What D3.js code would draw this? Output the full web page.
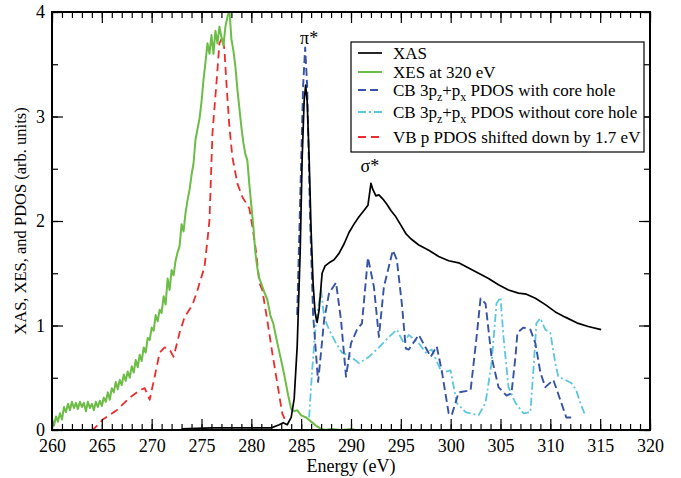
<!DOCTYPE html>
<html>
<head>
<meta charset="utf-8">
<script src="https://cdn.jsdelivr.net/npm/d3@7"></script>
<style>
  body { margin: 0; background: #fff; }
  text { font-family: "Liberation Serif", "Times New Roman", serif; }
</style>
</head>
<body>
<svg id="chart" width="681" height="478"></svg>
<script>
// energies (eV) and intensities
const xasE = [273, 276, 279, 282, 282.8, 283.2, 283.6, 284.0, 284.3, 284.6, 284.9, 285.1, 285.3, 285.45, 285.6, 285.8, 286.0, 286.2, 286.4, 286.6, 286.8, 287.1, 287.4, 287.8, 288.3, 288.8, 289.3, 289.8, 290.3, 290.8, 291.3, 291.7, 292.0, 292.2, 292.5, 292.8, 293.2, 293.6, 294.0, 294.5, 295.0, 295.5, 296.0, 296.8, 297.8, 298.8, 299.8, 300.8, 301.8, 302.8, 303.8, 304.8, 305.8, 306.8, 307.6, 308.5, 309.5, 310.5, 311.5, 312.8, 313.8, 315.1];
const xasV = [0.01, 0.02, 0.02, 0.02, 0.05, 0.07, 0.05, 0.12, 0.3, 0.8, 1.7, 2.6, 3.15, 3.30, 3.15, 2.6, 1.9, 1.4, 1.12, 1.03, 1.15, 1.50, 1.57, 1.60, 1.63, 1.69, 1.78, 1.89, 1.97, 2.04, 2.10, 2.15, 2.36, 2.30, 2.24, 2.25, 2.21, 2.16, 2.10, 2.04, 1.96, 1.88, 1.83, 1.77, 1.72, 1.66, 1.62, 1.60, 1.55, 1.50, 1.45, 1.39, 1.34, 1.31, 1.30, 1.26, 1.20, 1.13, 1.08, 1.02, 0.99, 0.96];

const xesE = [260.0, 260.2, 260.4, 260.6, 260.8, 261.0, 261.2, 261.4, 261.6, 261.8, 262.0, 262.2, 262.4, 262.6, 262.8, 263.0, 263.2, 263.4, 263.6, 263.8, 264.0, 264.2, 264.4, 264.6, 264.8, 265.0, 265.2, 265.4, 265.6, 265.8, 266.0, 266.2, 266.4, 266.6, 266.8, 267.0, 267.2, 267.4, 267.6, 267.8, 268.0, 268.2, 268.4, 268.6, 268.8, 269.0, 269.2, 269.4, 269.6, 269.8, 270.0, 270.2, 270.4, 270.6, 270.8, 271.0, 271.2, 271.4, 271.6, 271.8, 272.0, 272.2, 272.4, 272.6, 272.8, 273.0, 273.2, 273.4, 273.6, 273.8, 274.0, 274.2, 274.4, 274.6, 274.8, 275.0, 275.2, 275.4, 275.6, 275.8, 276.0, 276.2, 276.4, 276.6, 276.8, 277.0, 277.2, 277.4, 277.6, 277.8, 278.0, 278.2, 278.4, 278.6, 278.8, 279.0, 279.2, 279.4, 279.6, 279.8, 280.0, 280.2, 280.4, 280.6, 280.8, 281.0, 281.3, 281.6, 281.9, 282.2, 282.5, 282.8, 283.1, 283.4, 283.7, 284.0, 284.3, 284.6, 285.0, 285.5, 286.0, 286.5, 287.0, 287.5, 288.0, 289.0, 290.0, 290.5];
const xesV = [0.10, 0.04, 0.13, 0.08, 0.16, 0.10, 0.22, 0.17, 0.25, 0.19, 0.27, 0.21, 0.26, 0.20, 0.27, 0.22, 0.26, 0.18, 0.27, 0.21, 0.25, 0.19, 0.27, 0.22, 0.28, 0.23, 0.31, 0.27, 0.36, 0.29, 0.40, 0.36, 0.46, 0.39, 0.48, 0.43, 0.53, 0.47, 0.56, 0.50, 0.61, 0.55, 0.67, 0.60, 0.72, 0.66, 0.79, 0.74, 0.88, 0.86, 0.98, 0.95, 1.10, 1.04, 1.15, 1.12, 1.28, 1.20, 1.45, 1.34, 1.53, 1.48, 1.62, 1.70, 1.76, 1.97, 1.90, 2.08, 2.20, 2.30, 2.44, 2.55, 2.78, 2.88, 2.98, 3.14, 3.35, 3.52, 3.70, 3.60, 3.78, 3.60, 3.82, 3.70, 3.86, 3.76, 3.68, 3.86, 3.95, 4.02, 3.74, 3.63, 3.48, 3.26, 3.08, 2.90, 2.75, 2.64, 2.58, 2.35, 2.15, 1.95, 1.70, 1.55, 1.45, 1.40, 1.32, 1.25, 1.10, 1.02, 0.88, 0.75, 0.62, 0.48, 0.33, 0.20, 0.18, 0.19, 0.14, 0.12, 0.08, 0.04, 0.01, 0.0, 0.01, 0.0, 0.01, 0.0];

const cbE = [284.6, 284.9, 285.2, 285.4, 285.6, 285.9, 286.2, 286.7, 287.0, 287.3, 287.8, 288.5, 289.0, 289.5, 290.0, 290.6, 291.1, 291.7, 292.3, 292.8, 293.3, 294.2, 294.6, 295.1, 295.5, 295.8, 296.8, 298.0, 298.6, 299.1, 299.8, 300.1, 300.8, 302.0, 302.6, 303.0, 303.5, 304.1, 304.8, 305.6, 306.1, 306.5, 306.7, 307.3, 308.0, 308.5, 309.0, 309.5, 310.3, 311.1, 311.6, 312.1];
const cbV = [1.10, 2.2, 3.3, 3.66, 3.3, 2.0, 1.1, 0.46, 0.75, 1.05, 1.31, 1.41, 1.05, 0.51, 0.83, 0.96, 1.02, 1.65, 1.37, 0.89, 1.37, 1.72, 1.63, 1.21, 0.78, 0.77, 0.91, 0.70, 0.80, 0.57, 0.16, 0.14, 0.36, 0.38, 0.89, 1.26, 1.21, 0.70, 0.41, 0.33, 0.35, 0.70, 0.93, 0.98, 0.96, 0.83, 0.55, 0.41, 0.48, 0.26, 0.12, 0.12];

const cbnE = [285.8, 286.1, 286.5, 287.0, 287.3, 287.8, 288.5, 289.1, 290.0, 290.8, 291.8, 292.8, 293.8, 294.6, 295.3, 295.8, 296.8, 297.5, 298.1, 299.1, 300.0, 300.6, 301.5, 302.8, 303.5, 304.1, 304.6, 305.0, 305.3, 305.8, 306.5, 307.3, 308.0, 308.3, 308.6, 309.0, 309.5, 310.0, 310.5, 310.8, 311.5, 312.1, 312.6, 313.0, 313.5];
const cbnV = [0.12, 0.57, 1.05, 1.34, 1.08, 0.96, 0.83, 0.74, 0.70, 0.64, 0.70, 0.79, 0.89, 0.96, 0.83, 0.91, 0.83, 0.74, 0.77, 0.55, 0.57, 0.26, 0.17, 0.14, 0.26, 0.64, 1.21, 1.27, 0.89, 0.41, 0.26, 0.16, 0.17, 0.57, 1.02, 1.07, 0.96, 0.93, 0.64, 0.51, 0.48, 0.45, 0.38, 0.26, 0.14];

const vbE = [260, 264.0, 264.3, 265.1, 266.5, 267.8, 268.8, 269.3, 269.8, 270.3, 270.8, 271.3, 271.8, 272.2, 272.8, 273.3, 274.1, 274.6, 275.3, 275.6, 275.8, 276.1, 276.5, 276.8, 277.1, 277.3, 277.5, 277.8, 278.1, 278.6, 279.1, 279.8, 280.1, 280.5, 280.8, 281.1, 281.6, 282.1, 282.6, 283.1, 283.5];
const vbV = [0, 0, 0.02, 0.1, 0.19, 0.31, 0.38, 0.40, 0.29, 0.51, 0.74, 0.79, 0.77, 0.70, 0.93, 1.08, 1.20, 1.34, 1.56, 1.82, 2.01, 2.84, 3.32, 3.70, 3.76, 3.64, 3.32, 2.90, 2.61, 2.36, 2.23, 2.12, 1.95, 1.69, 1.41, 1.34, 1.05, 0.74, 0.45, 0.16, 0.07];

const xMajor = d3.range(260, 321, 5);
const xMinor = d3.range(260, 321, 1);
const yMajor = [0, 1, 2, 3, 4];
const yMinor = d3.range(0, 4.01, 0.5);

const svg = d3.select("#chart");
const pLeft = 52, pRight = 650, pTop = 12, pBottom = 430;

const x = d3.scaleLinear().domain([260, 320]).range([pLeft, pRight]);
const y = d3.scaleLinear().domain([0, 4]).range([pBottom, pTop]);

svg.append("defs").append("clipPath").attr("id", "clip")
    .append("rect").attr("x", pLeft).attr("y", pTop)
    .attr("width", pRight - pLeft).attr("height", pBottom - pTop);

const series = [
    { label: "VB", e: vbE, v: vbV, color: "#ee2b2b", width: 1.8, dash: "8,5" },
    { label: "XES", e: xesE, v: xesV, color: "#6cbd45", width: 2, dash: null },
    { label: "CBn", e: cbnE, v: cbnV, color: "#5cc6de", width: 1.8, dash: "8,3,2,3" },
    { label: "CB", e: cbE, v: cbV, color: "#3753a6", width: 1.9, dash: "8,4" },
    { label: "XAS", e: xasE, v: xasV, color: "#000", width: 1.7, dash: null }
];

const line = d3.line().x(d => x(d[0])).y(d => y(d[1]));
const plot = svg.append("g").attr("clip-path", "url(#clip)");
series.forEach(s => {
    plot.append("path")
        .datum(s.e.map((e, i) => [e, s.v[i]]))
        .attr("fill", "none")
        .attr("stroke", s.color)
        .attr("stroke-width", s.width)
        .attr("stroke-dasharray", s.dash)
        .attr("stroke-linejoin", "round")
        .attr("d", line);
});

// axes, ticks pointing inward
function styleAxis(g) {
    g.select(".domain").remove();
    g.selectAll("line").attr("stroke", "#000").attr("stroke-width", 1.2);
}
svg.append("g").attr("transform", `translate(0,${pBottom})`)
    .call(d3.axisBottom(x).tickValues(xMinor).tickSize(-6).tickFormat(""))
    .call(styleAxis);
svg.append("g").attr("transform", `translate(0,${pBottom})`)
    .call(d3.axisBottom(x).tickValues(xMajor).tickSize(-11).tickPadding(9).tickFormat(d3.format("d")))
    .call(styleAxis)
    .selectAll("text").attr("font-size", 18).attr("fill", "#000");
svg.append("g").attr("transform", `translate(0,${pTop})`)
    .call(d3.axisTop(x).tickValues(xMinor).tickSize(-6).tickFormat(""))
    .call(styleAxis);
svg.append("g").attr("transform", `translate(0,${pTop})`)
    .call(d3.axisTop(x).tickValues(xMajor).tickSize(-11).tickFormat(""))
    .call(styleAxis);
svg.append("g").attr("transform", `translate(${pLeft},0)`)
    .call(d3.axisLeft(y).tickValues(yMinor).tickSize(-6).tickFormat(""))
    .call(styleAxis);
svg.append("g").attr("transform", `translate(${pLeft},0)`)
    .call(d3.axisLeft(y).tickValues(yMajor).tickSize(-11).tickPadding(7).tickFormat(d3.format("d")))
    .call(styleAxis)
    .selectAll("text").attr("font-size", 18).attr("fill", "#000");
svg.append("g").attr("transform", `translate(${pRight},0)`)
    .call(d3.axisRight(y).tickValues(yMinor).tickSize(-6).tickFormat(""))
    .call(styleAxis);
svg.append("g").attr("transform", `translate(${pRight},0)`)
    .call(d3.axisRight(y).tickValues(yMajor).tickSize(-11).tickFormat(""))
    .call(styleAxis);

svg.append("rect")
    .attr("x", pLeft).attr("y", pTop)
    .attr("width", pRight - pLeft).attr("height", pBottom - pTop)
    .attr("fill", "none").attr("stroke", "#000").attr("stroke-width", 2);

svg.append("text")
    .attr("x", (pLeft + pRight) / 2).attr("y", 472)
    .attr("text-anchor", "middle").attr("font-size", 18)
    .text("Energy (eV)");

svg.append("text")
    .attr("transform", `translate(26,${(pTop + pBottom) / 2}) rotate(-90)`)
    .attr("text-anchor", "middle").attr("font-size", 16.5)
    .text("XAS, XES, and PDOS (arb. units)");

// peak labels
svg.append("text").attr("x", x(285.8)).attr("y", 44)
    .attr("text-anchor", "middle").attr("font-size", 18).text("π*");
svg.append("text").attr("x", x(291.9)).attr("y", 172)
    .attr("text-anchor", "middle").attr("font-size", 18).text("σ*");

// legend
const legend = svg.append("g");
legend.append("rect")
    .attr("x", 351).attr("y", 42).attr("width", 293).attr("height", 110)
    .attr("fill", "#fff").attr("stroke", "#000").attr("stroke-width", 1.2);

const legendRows = [
    { s: "XAS", y: 53, parts: [["XAS"]] },
    { s: "XES", y: 72, parts: [["XES at 320 eV"]] },
    { s: "CB", y: 90, parts: [["CB 3p"], ["z", "sub"], ["+p"], ["x", "sub"], [" PDOS with core hole"]] },
    { s: "CBn", y: 112, parts: [["CB 3p"], ["z", "sub"], ["+p"], ["x", "sub"], [" PDOS without core hole"]] },
    { s: "VB", y: 137, parts: [["VB p PDOS shifted down by 1.7 eV"]] }
];
legendRows.forEach(r => {
    const s = series.find(d => d.label === r.s);
    legend.append("line")
        .attr("x1", 358).attr("x2", 382).attr("y1", r.y).attr("y2", r.y)
        .attr("stroke", s.color).attr("stroke-width", s.width)
        .attr("stroke-dasharray", s.dash);
    const t = legend.append("text").attr("x", 393).attr("y", r.y + 5.5).attr("font-size", 17);
    r.parts.forEach(p => {
        const ts = t.append("tspan").text(p[0]);
        if (p[1] === "sub") {
            ts.attr("font-size", 12).attr("dy", 5);
        } else if (t.selectAll("tspan").size() > 1) {
            ts.attr("dy", -5);
        }
    });
});
</script>
</body>
</html>
